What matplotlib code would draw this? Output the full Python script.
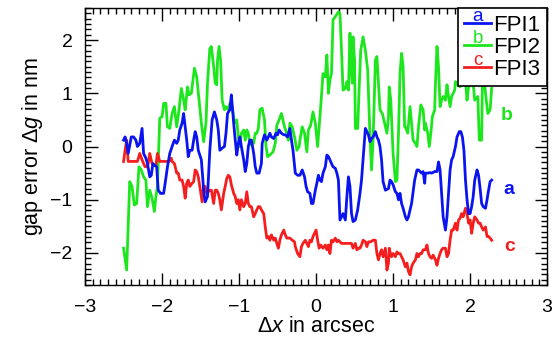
import matplotlib
matplotlib.use("Agg")
import matplotlib.pyplot as plt
from matplotlib.legend_handler import HandlerLine2D
from matplotlib.text import Text
from matplotlib.ticker import MultipleLocator

plt.rcParams['font.family'] = ['Liberation Sans', 'DejaVu Sans']
plt.rcParams['mathtext.fontset'] = 'custom'
plt.rcParams['mathtext.rm'] = 'Liberation Sans'
plt.rcParams['mathtext.it'] = 'Liberation Sans:italic'

# FPI2 (green)
x_fpi2 = [-2.50, -2.46, -2.42, -2.39, -2.36, -2.33, -2.30, -2.27, -2.24, -2.21, -2.19, -2.16, -2.13, -2.10,
          -2.08, -2.06, -2.03, -2.00, -1.98, -1.95, -1.93, -1.90, -1.87, -1.84, -1.81, -1.78, -1.75, -1.72,
          -1.70, -1.67, -1.65, -1.62, -1.58, -1.55, -1.52, -1.49, -1.46, -1.43, -1.41,
          -1.38, -1.36, -1.33, -1.31, -1.29, -1.28, -1.26, -1.24, -1.22, -1.19, -1.17, -1.14, -1.12, -1.09,
          -1.06, -1.03, -1.01, -0.99, -0.97, -0.94, -0.92, -0.90, -0.88, -0.86, -0.84, -0.81, -0.79, -0.77,
          -0.75, -0.73, -0.70, -0.67, -0.65, -0.63, -0.60, -0.58, -0.56, -0.53, -0.51, -0.48, -0.45, -0.44,
          -0.41, -0.38, -0.36, -0.34, -0.31, -0.28, -0.25, -0.22,
          -0.21, -0.18, -0.15, -0.12, -0.10, -0.07, -0.04, -0.01, 0.02, 0.04, 0.06, 0.09, 0.12, 0.14, 0.16,
          0.18, 0.20, 0.22, 0.25, 0.29, 0.31, 0.33, 0.35, 0.38, 0.40, 0.42, 0.44, 0.45, 0.47, 0.48, 0.50,
          0.51, 0.54, 0.56, 0.58, 0.61, 0.64, 0.67, 0.70, 0.72, 0.74, 0.77, 0.79, 0.81, 0.83, 0.86, 0.89,
          0.92, 0.94,
          0.95, 0.97, 1.00, 1.03, 1.05, 1.07, 1.09, 1.11, 1.13, 1.15, 1.16, 1.19, 1.22, 1.24, 1.26, 1.29,
          1.31, 1.33, 1.36, 1.39, 1.41, 1.42, 1.45, 1.47, 1.49, 1.51, 1.54, 1.55, 1.57, 1.59, 1.61, 1.63,
          1.65, 1.68, 1.70, 1.72, 1.74, 1.76, 1.80, 1.81, 1.84, 1.87, 1.90, 1.94, 1.96, 1.98, 2.01, 2.04,
          2.06, 2.10, 2.12, 2.15, 2.16, 2.19, 2.20, 2.23, 2.26, 2.28]
y_fpi2 = [-1.91, -2.32, -0.66, -0.75, -1.10, -1.07, -0.38, -0.44, -0.57, -0.63, -1.13, -0.82, -0.97, -1.22,
          -0.94, -0.75, 0.53, 0.56, 0.81, 0.81, 0.37, 0.34, 0.62, 0.75, 0.37, 0.69, 1.09, 0.87,
          0.69, 1.12, 0.97, 1.00, 1.47, 1.31, 0.87, 0.44, 0.09, 0.44, 1.19,
          1.84, 1.88, 1.50, 1.19, 1.16, 1.62, 1.88, 1.62, 0.87, 0.69, 0.75, 0.69, 0.81, 0.75,
          0.44, 0.50, 0.18, 0.00, 0.25, 0.31, 0.12, 0.31, 0.25, 0.03, 0.12, 0.06, 0.25, 0.25,
          0.34, 0.69, 0.72, 0.50, 0.00, -0.19, -0.16, -0.13, -0.10, 0.06, 0.40, 0.50, 0.62, 0.56,
          0.37, 0.25, 0.12, 0.44, 0.37, 0.18, -0.07, 0.00,
          0.12, 0.37, 0.25, -0.10, 0.31, 0.40, 0.65, 0.44, 0.00, 0.37, 0.75, 1.37, 1.31, 1.72, 1.00,
          1.25, 1.37, 2.38, 2.44, 2.53, 2.50, 1.81, 1.06, 1.09, 1.22, 1.06, 2.13, 1.56, 1.19, 2.06, 1.62,
          0.34, 0.34, 1.12, 1.81, 2.06, 1.81, 1.44, 0.18, -0.44, 0.12, 1.62, 1.69, 1.19, 0.69, 0.62, 0.44,
          0.25, 0.56,
          1.12, 0.87, -0.13, -0.66, -0.63, 0.25, 1.37, 1.75, 1.50, 0.37, 0.37, 0.25, 0.75, 0.44, 0.12, 0.06,
          0.00, 0.37, 0.78, 0.69, 0.31, 0.44, 0.25, 0.00, 0.25, 0.56, 0.69, 1.19, 1.88, 1.50, 0.75, 0.87,
          0.94, 0.87, 1.16, 0.94, 0.75, 0.94, 1.06, 1.22, 1.16, 1.12, 1.19, 1.25, 0.87, 1.12, 1.19, 1.19,
          0.87, 0.94, 0.12, 0.12, 1.19, 1.19, 1.00, 0.62, 0.69, 1.09]

# FPI1 (blue)
x_fpi1 = [-2.50, -2.48, -2.46, -2.44, -2.40, -2.37, -2.34, -2.32, -2.29, -2.26, -2.24, -2.21, -2.19, -2.16,
          -2.14, -2.12, -2.10, -2.07, -2.05, -2.02, -1.98, -1.96, -1.93, -1.90, -1.87, -1.84, -1.81, -1.79,
          -1.77, -1.74, -1.72, -1.70, -1.68, -1.66, -1.64, -1.61, -1.59, -1.57, -1.55, -1.53, -1.49, -1.46,
          -1.44, -1.41,
          -1.38, -1.35, -1.32, -1.29, -1.27, -1.25, -1.22, -1.19, -1.17, -1.15, -1.12, -1.10, -1.07, -1.05,
          -1.03, -1.01, -0.99, -0.97, -0.94, -0.92, -0.90, -0.88, -0.86, -0.84, -0.81, -0.79, -0.77, -0.74,
          -0.71, -0.70, -0.67, -0.64, -0.62, -0.60, -0.58, -0.55, -0.52, -0.50, -0.48, -0.45, -0.42, -0.40,
          -0.37, -0.34, -0.32, -0.30, -0.27, -0.24, -0.21,
          -0.18, -0.15, -0.13, -0.11, -0.08, -0.06, -0.04, -0.01, 0.01, 0.03, 0.05, 0.07, 0.09, 0.12, 0.14,
          0.16, 0.18, 0.20, 0.22, 0.25, 0.27, 0.29, 0.30, 0.31, 0.33, 0.35, 0.38, 0.40, 0.42, 0.44, 0.46,
          0.48, 0.51, 0.54, 0.57, 0.59, 0.61, 0.64, 0.66, 0.68, 0.70, 0.72, 0.74, 0.77, 0.79, 0.81, 0.83,
          0.85, 0.87, 0.90, 0.94,
          0.96, 0.98, 1.00, 1.03, 1.05, 1.07, 1.09, 1.11, 1.13, 1.16, 1.18, 1.20, 1.22, 1.24, 1.28, 1.31,
          1.33, 1.35, 1.37, 1.39, 1.41, 1.42, 1.45, 1.48, 1.50, 1.54, 1.57, 1.59, 1.61, 1.63, 1.65, 1.68,
          1.70, 1.72, 1.74, 1.76, 1.78, 1.81, 1.83, 1.86, 1.88, 1.90, 1.92, 1.94, 1.96, 1.98, 2.00, 2.02,
          2.04, 2.06, 2.09, 2.11, 2.13, 2.15, 2.17, 2.20, 2.22, 2.24, 2.26, 2.28]
y_fpi1 = [0.12, 0.18, 0.06, -0.13, 0.18, 0.18, 0.12, 0.00, 0.06, 0.34, -0.13, -0.22, -0.32, -0.57,
          -0.54, -0.32, -0.35, -0.38, -0.82, -0.88, -0.88, -0.69, -0.38, -0.13, 0.00, 0.12, 0.06, 0.12,
          0.31, 0.44, 0.62, 0.37, 0.12, -0.19, -0.07, -0.07, 0.12, 0.28, 0.18, -0.07, -0.25, -0.82,
          -1.04, -0.94,
          -0.07, 0.50, 0.65, 0.50, 0.31, -0.07, -0.03, 0.00, 0.25, 0.62, 0.69, 0.97, 0.44, 0.12,
          -0.16, 0.06, 0.18, 0.00, -0.25, -0.47, -0.32, 0.00, 0.12, 0.12, -0.13, -0.38, -0.50, -0.50,
          -0.32, 0.06, 0.22, 0.12, 0.18, 0.25, 0.18, 0.15, 0.25, 0.22, 0.31, 0.25, 0.22, 0.22,
          0.18, 0.34, 0.12, -0.07, -0.50, -0.54, -0.54,
          -0.44, -0.57, -0.75, -0.85, -0.88, -1.07, -1.07, -0.82, -0.69, -0.54, -0.63, -0.66, -0.50, -0.38, -0.16,
          -0.19, -0.25, -0.32, -0.38, -0.41, -0.50, -0.63, -1.00, -1.38, -1.32, -1.26, -1.38, -0.94, -0.57, -0.75, -1.26,
          -1.41, -1.38, -1.19, -0.88, -0.63, -0.25, 0.34, 0.28, 0.22, 0.09, 0.15, 0.18, 0.28, 0.18, 0.12, 0.00,
          -0.25, -0.66, -0.82, -0.79,
          -0.63, -0.66, -0.72, -0.85, -0.88, -1.00, -0.88, -1.07, -1.16, -1.32, -1.38, -1.32, -1.19, -1.07, -0.63, -0.44,
          -0.44, -0.47, -0.50, -0.47, -0.69, -0.50, -0.50, -0.49, -0.50, -0.47, -0.47, -0.29, -0.44, -0.88, -1.32, -1.57,
          -1.32, -0.88, -0.44, -0.25, -0.19, 0.00, 0.18, 0.28, 0.28, 0.18, -0.07, -0.63, -1.00, -1.26, -1.26, -1.13,
          -0.94, -0.63, -0.44, -0.54, -0.79, -1.07, -1.13, -1.16, -1.00, -0.82, -0.66, -0.63]

# FPI3 (red)
x_fpi3 = [-2.50, -2.48, -2.46, -2.44, -2.39, -2.35, -2.32, -2.29, -2.26, -2.24, -2.22, -2.20, -2.18, -2.16,
          -2.13, -2.11, -2.08, -2.06, -2.03, -2.00, -1.97, -1.94, -1.91, -1.88, -1.87, -1.84, -1.81, -1.79,
          -1.77, -1.74, -1.72, -1.70, -1.68, -1.66, -1.64, -1.61, -1.59, -1.57, -1.55, -1.53, -1.51, -1.48,
          -1.46, -1.44, -1.42,
          -1.38, -1.36, -1.33, -1.31, -1.29, -1.27, -1.25, -1.23, -1.20, -1.18, -1.16, -1.14, -1.12, -1.10,
          -1.07, -1.05, -1.03, -1.01, -0.99, -0.97, -0.94, -0.92, -0.90, -0.88, -0.86, -0.84, -0.81, -0.79,
          -0.77, -0.75, -0.73, -0.71, -0.68, -0.66, -0.64, -0.62, -0.60, -0.58, -0.55, -0.53, -0.51, -0.49,
          -0.47, -0.45, -0.42, -0.40, -0.38, -0.36, -0.34, -0.31, -0.28, -0.27, -0.24, -0.21,
          -0.19, -0.17, -0.14, -0.12, -0.10, -0.08, -0.06, -0.04, 0.00, 0.02, 0.04, 0.06, 0.09, 0.12, 0.14,
          0.16, 0.18, 0.20, 0.22, 0.25, 0.27, 0.29, 0.33, 0.38, 0.42, 0.46, 0.48, 0.51, 0.53, 0.55, 0.57,
          0.59, 0.61, 0.64, 0.66, 0.68, 0.71, 0.74, 0.77, 0.79, 0.81, 0.83, 0.85, 0.87, 0.90, 0.92, 0.94,
          0.95, 0.96, 0.98, 1.00, 1.03, 1.05, 1.07, 1.09, 1.11, 1.13, 1.16, 1.18, 1.20, 1.22, 1.24, 1.26,
          1.29, 1.31, 1.33, 1.35, 1.37, 1.39, 1.42, 1.44, 1.46, 1.48, 1.50, 1.52, 1.55, 1.57, 1.59, 1.61,
          1.63, 1.65, 1.68, 1.70, 1.72, 1.74, 1.76, 1.78, 1.81, 1.83, 1.85, 1.87, 1.89, 1.91, 1.94, 1.96,
          1.98, 2.00, 2.02, 2.04, 2.06, 2.09, 2.11, 2.13, 2.15, 2.17, 2.20, 2.22, 2.24, 2.26, 2.28]
y_fpi3 = [-0.28, -0.07, 0.12, -0.28, -0.28, -0.28, -0.28, -0.13, -0.25, -0.32, -0.38, -0.38, -0.32, -0.13,
          -0.32, -0.35, -0.35, -0.13, -0.28, -0.28, -0.28, -0.28, -0.28, -0.22, -0.28, -0.32, -0.50, -0.50,
          -0.63, -0.63, -0.75, -0.97, -0.69, -0.63, -0.75, -0.69, -0.66, -0.44, -0.47, -0.57, -0.75, -1.04,
          -0.75, -0.75, -0.88,
          -0.82, -0.82, -1.07, -0.82, -0.82, -0.88, -1.00, -1.19, -0.88, -0.75, -0.60, -0.54, -0.57, -0.72,
          -0.88, -0.94, -1.07, -1.00, -1.19, -1.00, -1.13, -1.07, -0.85, -1.07, -1.13, -1.13, -1.32, -1.26,
          -1.19, -1.13, -1.13, -1.19, -1.26, -1.51, -1.72, -1.69, -1.76, -1.66, -1.76, -1.72, -1.82, -1.91,
          -1.76, -1.66, -1.57, -1.66, -1.72, -1.72, -1.72, -1.76, -1.79, -1.88, -2.01, -2.07,
          -1.88, -1.82, -1.76, -1.82, -1.88, -1.76, -1.79, -1.69, -1.57, -1.76, -1.91, -1.85, -1.91, -1.85, -1.94,
          -1.85, -2.01, -1.76, -1.79, -1.72, -1.79, -1.76, -1.82, -1.82, -1.82, -1.82, -1.91, -1.82, -1.94, -1.91, -1.91,
          -1.85, -1.76, -1.79, -1.88, -1.79, -1.79, -1.76, -1.76, -2.01, -2.13, -2.01, -1.94, -2.07, -1.91, -2.32, -2.19,
          -1.91, -1.98, -2.07, -2.01, -2.07, -1.98, -2.01, -2.01, -2.07, -2.13, -2.26, -2.19, -2.35, -2.41, -2.26, -2.19,
          -2.13, -2.01, -2.07, -2.01, -2.01, -1.94, -1.94, -1.85, -2.01, -2.07, -2.10, -2.04, -2.13, -2.23, -2.10, -2.01,
          -1.94, -1.91, -1.91, -2.07, -2.01, -1.76, -1.57, -1.57, -1.44, -1.57, -1.38, -1.35, -1.26, -1.32, -1.16, -1.26,
          -1.44, -1.38, -1.63, -1.44, -1.32, -1.38, -1.44, -1.44, -1.51, -1.57, -1.51, -1.69, -1.69, -1.72, -1.76]

series_names = ['FPI1', 'FPI2', 'FPI3']
series_letters = ['a', 'b', 'c']
series_colors = ['#0a14f0', '#1ee61e', '#f51e1e']
# end-of-line letter positions (x, y in data units)
letter_pos = [(2.50, -0.80), (2.48, 0.59), (2.52, -1.88)]


class LetterHandler(HandlerLine2D):
    """legend handle: short line with the series letter sitting on it"""
    def __init__(self, letter, **kw):
        super().__init__(**kw)
        self.letter = letter

    def create_artists(self, legend, orig_handle, xdescent, ydescent,
                       width, height, fontsize, trans):
        arts = super().create_artists(legend, orig_handle, xdescent, ydescent,
                                      width, height, fontsize, trans)
        t = Text(width / 2.0 - xdescent, (height - ydescent) / 2.0 + 1.5, self.letter,
                 color=orig_handle.get_color(), fontsize=fontsize * 0.85,
                 ha='center', va='baseline', transform=trans)
        return list(arts) + [t]


fig = plt.figure(figsize=(5.56, 3.38), dpi=100)
ax = fig.add_axes([0.153, 0.157, 0.831, 0.819])

l2, = ax.plot(x_fpi2, y_fpi2, color=series_colors[1], lw=2.0)
l3, = ax.plot(x_fpi3, y_fpi3, color=series_colors[2], lw=2.0)
l1, = ax.plot(x_fpi1, y_fpi1, color=series_colors[0], lw=2.0)
lines = [l1, l2, l3]

for (px, py), let, c in zip(letter_pos, series_letters, series_colors):
    ax.text(px, py, let, color=c, fontsize=14, fontweight='bold', ha='center', va='center')

ax.set_xlim(-3, 3)
ax.set_ylim(-2.6, 2.6)
ax.xaxis.set_major_locator(MultipleLocator(1))
ax.xaxis.set_minor_locator(MultipleLocator(0.1))
ax.yaxis.set_major_locator(MultipleLocator(1))
ax.yaxis.set_minor_locator(MultipleLocator(0.1))
ax.tick_params(which='both', direction='in', top=True, right=True, width=1.0, labelsize=14)
ax.tick_params(which='major', length=9)
ax.tick_params(which='minor', length=4.5)
ax.tick_params(axis='x', pad=10)
ax.tick_params(axis='y', pad=9)
for sp in ax.spines.values():
    sp.set_linewidth(1.0)

ax.set_xlabel(r'$\Delta x$ in arcsec', fontsize=15.5, labelpad=0)
ax.set_ylabel(r'gap error $\Delta g$ in nm', fontsize=15.5, labelpad=4)

leg = ax.legend(lines, series_names, loc='upper right', fontsize=16,
                handler_map={ln: LetterHandler(let) for ln, let in zip(lines, series_letters)},
                handlelength=1.2, handletextpad=0.1, labelspacing=0.04,
                borderpad=0.3, borderaxespad=0.0, fancybox=False, framealpha=1.0)
leg.get_frame().set_edgecolor('black')
leg.get_frame().set_linewidth(1.2)

fig.savefig('out.png', dpi=100)
